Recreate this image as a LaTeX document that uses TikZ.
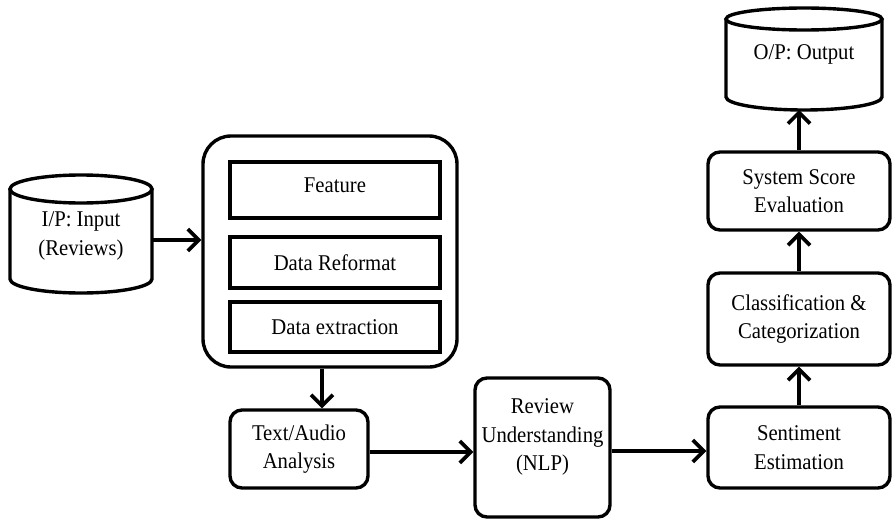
\documentclass[tikz,border=0pt]{standalone}
\usepackage{fontspec}
\setmainfont[FakeStretch=0.92]{Liberation Serif}
\usetikzlibrary{arrows.meta}
\newcommand{\fsz}{\fontsize{22.5}{28.5}\selectfont}
\begin{document}
\begin{tikzpicture}[x=1pt,y=-1pt,
  rbox/.style={draw, line width=3.4pt, rounded corners=12pt, align=center, font=\fsz, inner sep=0pt},
  sbox/.style={draw, line width=3.4pt, align=center, font=\fsz, inner sep=0pt, minimum width=210pt},
  lbl/.style={align=center, font=\fsz, inner sep=0pt},
  cyl/.style={line width=3.4pt},
  arr/.style={line width=3.6pt, -{Straight Barb[length=11pt,width=22pt,line width=3.6pt]}}]
\useasboundingbox (0,0) rectangle (896,519);
% input cylinder
\draw[cyl] (81,189) ellipse [x radius=71pt, y radius=14pt];
\draw[cyl] (10,189) -- (10,279) arc[start angle=180, end angle=360, x radius=71pt, y radius=14pt] -- (152,189);
\node[lbl] (inp) at (81,236) {I/P: Input\\(Reviews)};
\coordinate (inpR) at (152,240);
% output cylinder
\draw[cyl] (804,19) ellipse [x radius=78pt, y radius=11pt];
\draw[cyl] (726,19) -- (726,97) arc[start angle=180, end angle=360, x radius=78pt, y radius=13pt] -- (882,19);
\node[lbl] (outp) at (804,54) {O/P: Output};
\coordinate (outB) at (799,110);
% big box
\node[draw, line width=3.4pt, rounded corners=28pt, minimum width=254pt, minimum height=231pt, inner sep=0pt] (big) at (330,251.5) {};
\node[sbox, minimum height=56pt] (feat) at (335,190) {};
\node[lbl] (featt) at (335,185) {Feature};
\node[sbox, minimum height=51pt] (ref) at (335,262.5) {Data Reformat};
\node[sbox, minimum height=50pt] (ext) at (335,327) {Data extraction};
% process boxes
\node[rbox, minimum width=138pt, minimum height=78pt] (ta) at (299,449) {Text/Audio\\Analysis};
\node[rbox, minimum width=135pt, minimum height=139pt] (rev) at (542.5,447.5) {};
\node[lbl] (revt) at (542.5,437) {Review\\Understanding\\(NLP)};
\node[rbox, minimum width=182pt, minimum height=81pt] (sent) at (799,447.5) {Sentiment\\Estimation};
\node[rbox, minimum width=182pt, minimum height=92pt] (cls) at (799,319) {Classification \&\\Categorization};
\node[rbox, minimum width=182pt, minimum height=78pt] (sys) at (799,191) {System Score\\Evaluation};
% connectors
\draw[arr] (inpR) -- (inpR -| big.west);
\draw[arr] ([xshift=-8pt]big.south) -- ([xshift=-8pt]big.south |- ta.north);
\draw[arr] ([yshift=-3pt]ta.east) -- ([yshift=-3pt]ta.east -| rev.west);
\draw[arr] ([yshift=-3.5pt]rev.east) -- ([yshift=-3.5pt]rev.east -| sent.west);
\draw[arr] (sent.north) -- (cls.south);
\draw[arr] (cls.north) -- (sys.south);
\draw[arr] (sys.north) -- (outB);
\end{tikzpicture}
\end{document}
